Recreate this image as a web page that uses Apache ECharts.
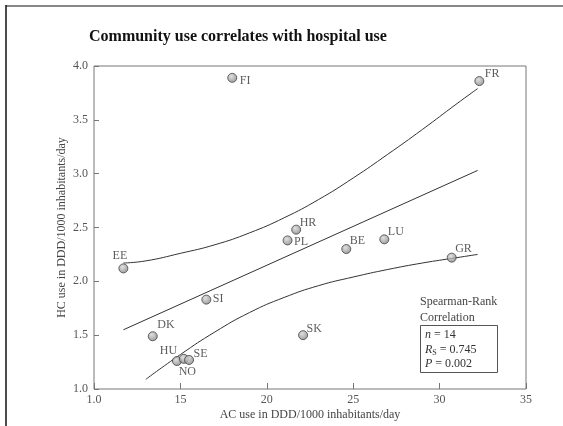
<!DOCTYPE html>
<html>
<head>
<meta charset="utf-8">
<script src="https://cdn.jsdelivr.net/npm/echarts@6/dist/echarts.min.js"></script>
<style>
  html, body { margin: 0; padding: 0; background: #fff; }
  #chart { width: 563px; height: 426px; }
</style>
</head>
<body>
<div id="chart"></div>
<script>
// Country codes with community (AC) and hospital (HC) antibiotic use
const countries = ['FI', 'FR', 'EE', 'SI', 'DK', 'HU', 'NO', 'SE', 'HR', 'PL', 'BE', 'LU', 'GR', 'SK'];
const acUse = [18.0, 32.3, 11.7, 16.5, 13.4, 14.8, 15.2, 15.5, 21.7, 21.2, 24.6, 26.8, 30.7, 22.1];
const hcUse = [3.89, 3.86, 2.12, 1.83, 1.49, 1.26, 1.28, 1.27, 2.48, 2.38, 2.30, 2.39, 2.22, 1.50];

// Regression line and its confidence curves, as [AC, HC] pairs
const fitLine = [[11.7, 1.55], [32.2, 3.03]];
const upperBand = [[11.7, 2.17], [13, 2.19], [15, 2.26], [17, 2.34], [19, 2.45], [21, 2.59], [23, 2.76],
  [25, 2.96], [27, 3.18], [29, 3.41], [31, 3.65], [32.2, 3.79]];
const lowerBand = [[13, 1.09], [15, 1.32], [17, 1.53], [19, 1.71], [21, 1.85], [23, 1.96], [25, 2.04],
  [27, 2.11], [29, 2.17], [31, 2.22], [32.2, 2.25]];

// Axis ticks
const xTicks = [10, 15, 20, 25, 30, 35];
const xTickLabels = ['1.0', '15', '20', '25', '30', '35'];
const yTicks = [1.0, 1.5, 2.0, 2.5, 3.0, 3.5, 4.0];

// Statistics box text
const statN = 14;
const statRs = '0.745';
const statP = '0.002';

const serif = "'Liberation Serif', 'DejaVu Serif', serif";

// Where each country's tag sits relative to its marker centre: [dx, dy, align]
const tagPlacement = {
  FI: [8, 4, 'left'], FR: [6, -7, 'left'], EE: [-3, -12, 'center'], SI: [7, 0, 'left'],
  DK: [5, -11, 'left'], HU: [-8, -10, 'center'], NO: [4, 13, 'center'], SE: [5, -6, 'left'],
  HR: [4, -6, 'left'], PL: [7, 2, 'left'], BE: [4, -8, 'left'], LU: [4, -7, 'left'],
  GR: [4, -8, 'left'], SK: [4, -6, 'left']
};

const markerSize = 9;
const points = countries.map((c, i) => {
  const p = tagPlacement[c];
  return {
    value: [acUse[i], hcUse[i]],
    name: c,
    label: {
      position: [markerSize / 2 + p[0], markerSize / 2 + p[1]],
      align: p[2],
      verticalAlign: 'middle'
    }
  };
});

const chart = echarts.init(document.getElementById('chart'), null, { renderer: 'canvas' });

const lineStyle = { color: '#333', width: 1 };

chart.setOption({
  backgroundColor: '#fff',
  animation: false,
  title: {
    text: 'Community use correlates with hospital use',
    left: 84,
    top: 24,
    textStyle: { fontFamily: serif, fontWeight: 'bold', fontSize: 16, color: '#111' }
  },
  grid: {
    left: 94, right: 37, top: 66, bottom: 37,
    outerBoundsMode: 'none',
    show: true, borderColor: '#777', borderWidth: 1, backgroundColor: 'transparent'
  },
  xAxis: {
    type: 'value',
    min: xTicks[0], max: xTicks[xTicks.length - 1], interval: 5,
    name: 'AC use in DDD/1000 inhabitants/day',
    nameLocation: 'middle', nameGap: 20, nameMoveOverlap: false,
    nameTextStyle: { fontFamily: serif, fontSize: 12, color: '#444' },
    axisLine: { show: false },
    axisTick: { show: true, inside: true, length: 6, lineStyle: { color: '#777' } },
    splitLine: { show: false },
    axisLabel: {
      fontFamily: serif, fontSize: 12, color: '#555', margin: 5,
      formatter: v => xTickLabels[xTicks.indexOf(v)] ?? ''
    }
  },
  yAxis: {
    type: 'value',
    min: yTicks[0], max: yTicks[yTicks.length - 1], interval: 0.5,
    name: 'HC use in DDD/1000 inhabitants/day',
    nameLocation: 'middle', nameGap: 26, nameMoveOverlap: false,
    nameTextStyle: { fontFamily: serif, fontSize: 12, color: '#444' },
    axisLine: { show: false },
    axisTick: { show: true, inside: true, length: 5, lineStyle: { color: '#777' } },
    splitLine: { show: false },
    axisLabel: {
      fontFamily: serif, fontSize: 12, color: '#555', margin: 6,
      formatter: v => v.toFixed(1)
    }
  },
  series: [
    { type: 'line', data: upperBand, smooth: true, symbol: 'none', lineStyle, silent: true },
    { type: 'line', data: fitLine, symbol: 'none', lineStyle, silent: true },
    { type: 'line', data: lowerBand, smooth: true, symbol: 'none', lineStyle, silent: true },
    {
      type: 'scatter',
      data: points,
      symbolSize: markerSize,
      itemStyle: {
        color: new echarts.graphic.RadialGradient(0.4, 0.35, 0.6, [
          { offset: 0, color: '#d8d8d8' },
          { offset: 1, color: '#8a8a8a' }
        ]),
        borderColor: '#444',
        borderWidth: 1
      },
      label: {
        show: true,
        formatter: p => p.name,
        fontFamily: serif, fontSize: 12, color: '#333'
      },
      z: 5
    }
  ],
  graphic: [
    // page frame: top rule and left rule
    { type: 'line', shape: { x1: 6, y1: 6, x2: 563, y2: 6 }, style: { stroke: '#888', lineWidth: 2 } },
    { type: 'line', shape: { x1: 6, y1: 5, x2: 6, y2: 426 }, style: { stroke: '#111', lineWidth: 1.5 } },
    {
      type: 'text', left: 420, top: 294,
      style: {
        text: 'Spearman-Rank\nCorrelation',
        font: "12px 'Liberation Serif', serif", fill: '#444', lineHeight: 16
      }
    },
    {
      type: 'rect', shape: { x: 420.5, y: 325.5, width: 77, height: 47 },
      style: { fill: '#fff', stroke: '#555', lineWidth: 1 }
    },
    {
      type: 'text', left: 425, top: 328,
      style: {
        text: '{i|n} = ' + statN + '\n{i|R}{sub|S} = ' + statRs + '\n{i|P} = ' + statP,
        font: "12px 'Liberation Serif', serif", fill: '#333', lineHeight: 14.5,
        rich: {
          i: { fontStyle: 'italic', fontFamily: serif, fontSize: 12, fill: '#333', lineHeight: 14.5 },
          sub: { fontFamily: serif, fontSize: 8, fill: '#333', verticalAlign: 'bottom', padding: [6, 0, 0, 0], lineHeight: 14.5 }
        }
      }
    }
  ]
});
</script>
</body>
</html>
